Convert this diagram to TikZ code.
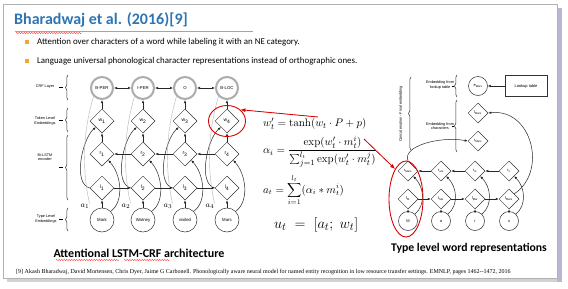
\documentclass[tikz,border=0pt]{standalone}
\usepackage[no-math]{fontspec}
\setmainfont{Carlito}
\newfontfamily\figfont{Liberation Sans}
\newfontfamily\reffont{Liberation Serif}
\usetikzlibrary{arrows.meta,shapes.geometric,decorations.pathreplacing,decorations.pathmorphing}
\definecolor{titleblue}{HTML}{2E75B6}
\definecolor{bulletorange}{HTML}{F0A830}
\begin{document}
\begin{tikzpicture}[x=1pt,y=-1pt,
  arr/.style={-{Latex[length=3pt,width=2.4pt]},line width=0.5pt,draw=black!85},
  dbl/.style={{Latex[length=3pt,width=2.4pt]}-{Latex[length=3pt,width=2.4pt]},line width=0.5pt,draw=black!85},
  redarr/.style={-{Latex[length=5pt,width=4pt]},line width=0.8pt,draw=red!85!black,fill=red!85!black},
  crfnode/.style={circle,draw=gray!65,line width=2pt,minimum size=22pt,inner sep=0pt,font=\figfont\fontsize{4.3}{5}\selectfont},
  wordnode/.style={circle,draw=black!80,line width=0.5pt,minimum size=24pt,inner sep=0pt,font=\figfont\fontsize{4.3}{5}\selectfont},
  dia/.style={diamond,draw=black!80,line width=0.5pt,minimum width=24pt,minimum height=24pt,aspect=1,inner sep=0pt,font=\figfont\fontsize{5}{6}\selectfont},
  sdia/.style={diamond,draw=black!80,line width=0.5pt,minimum width=20pt,minimum height=20pt,aspect=1,inner sep=0pt,font=\figfont\fontsize{4}{5}\selectfont},
  scirc/.style={circle,draw=black!80,line width=0.5pt,minimum size=19pt,inner sep=0pt,font=\figfont\fontsize{4}{5}\selectfont},
  lbl/.style={align=center,font=\figfont\fontsize{3.8}{4.4}\selectfont},
  brc/.style={decorate,decoration={brace,amplitude=2.5pt},line width=0.5pt,draw=black!80},
  gline/.style={draw=gray!55,line width=0.45pt},
  redell/.style={ellipse,draw=red!85!black,line width=0.9pt,inner sep=0pt},
  squig/.style={draw=red!80,line width=0.4pt,decorate,decoration={snake,amplitude=0.6pt,segment length=2.5pt}}
]
\useasboundingbox (0,0) rectangle (568,289);
% slide frame with shadow
\fill[gray!35] (7,8) rectangle (562,282);
\fill[blue!25!gray!45] (557,8) rectangle (562,282);
\fill[white] (3,4) rectangle (557,278);
\draw[gray!60,line width=0.5pt] (3,4) rectangle (557,278);

% title
\node[anchor=west,inner sep=0pt,font=\bfseries\fontsize{16}{18}\selectfont,text=titleblue] (title) at (14,20) {Bharadwaj et al. (2016)[9]};
\draw[titleblue!60,line width=0.6pt] (15,31.5) -- (253,31.5);
\draw[squig] (16,33) -- (82,33);

% bullets
\fill[bulletorange] (25,40) rectangle (29,44);
\fill[bulletorange] (25,59) rectangle (29,63);
\node[anchor=west,inner sep=0pt,font=\fontsize{8.9}{10}\selectfont] (b1) at (37,42) {Attention over characters of a word while labeling it with an NE category.};
\node[anchor=west,inner sep=0pt,font=\fontsize{8.9}{10}\selectfont] (b2) at (37,61) {Language universal phonological character representations instead of orthographic ones.};

% ---------- left diagram ----------
\foreach \i/\x/\tag/\word in {1/102/B-PER/Mark,2/143/I-PER/Watney,3/185/O/visited,4/227/B-LOC/Mars}{
  \node[crfnode] (c\i) at (\x,88) {\tag};
  \node[dia] (w\i) at (\x,121) {w\textsubscript{\i}};
  \node[dia] (r\i) at (\x,154) {r\textsubscript{\i}};
  \node[dia] (l\i) at (\x,188) {l\textsubscript{\i}};
  \node[wordnode] (m\i) at (\x,220) {\word};
  \node[inner sep=0pt,font=\fontsize{8}{9}\selectfont] (a\i) at (\x-17,206) {$a_{\i}$};
  \draw[arr] (m\i) -- (l\i);
  \draw[arr] (r\i) -- (w\i);
  \draw[arr] (w\i) -- (c\i);
  \draw[arr] (l\i.west) .. controls +(-17,-4) and +(-14,12) .. (w\i.south west);
  \draw[arr] (m\i.north east) .. controls +(14,-10) and +(13,14) .. (r\i.south east);
  \draw[gline] (a\i.north east) .. controls +(-9,-40) and +(-9,30) .. (c\i.south west);
}
\foreach \i/\j in {1/2,2/3,3/4}{
  \draw[dbl] (c\i) -- (c\j);
  \draw[arr] (l\i) -- (l\j);
  \draw[arr] (r\j) -- (r\i);
}
% left labels and braces
\node[lbl] (t1) at (45,87) {CRF Layer};
\node[lbl] (t2) at (45,121) {Token Level\\Embeddings};
\node[lbl] (t3) at (45,157) {Bi-LSTM\\encoder};
\node[lbl] (t4) at (46,219) {Type Level\\Embeddings};
\draw[brc] (68,100) -- (68,75);
\draw[brc] (68,132) -- (68,108);
\draw[brc] (68,200) -- (68,135);
\draw[brc] (68,231) -- (68,208);
\foreach \y in {87.5,120,167.5,219.5}{ \draw[line width=0.4pt] (59,\y) -- (63,\y); }

\node[redell,minimum width=37pt,minimum height=31pt] (e1) at (227,121) {};

% formulas
\node[anchor=west,inner sep=0pt,font=\fontsize{11}{13}\selectfont] (f1) at (263,124) {$w'_t = \tanh(w_t\cdot P + p)$};
\node[anchor=west,inner sep=0pt,font=\fontsize{11}{13}\selectfont] (f2) at (263,152) {$\alpha_i = \displaystyle\frac{\exp(w'_t\cdot m^i_t)}{\sum_{j=1}^{l_t}\exp(w'_t\cdot m^j_t)}$};
\node[anchor=west,inner sep=0pt,font=\fontsize{10.5}{12}\selectfont] (f3) at (263,190) {$a_t = \displaystyle\sum_{i=1}^{l_t}(\alpha_i * m^i_t)$};
\node[anchor=west,inner sep=0pt,font=\fontsize{15}{17}\selectfont] (f4) at (274,225) {$u_t\;=\;[a_t;\;w_t]$};

\coordinate (ra1) at (318,117);
\coordinate (ra2) at (364,139);
\draw[redarr] (ra1) -- (e1.north east);

% ---------- right diagram ----------
\node[scirc] (emars) at (478,86) {e\textsubscript{Mars}};
\node[draw=black!80,line width=0.5pt,minimum width=42pt,minimum height=21pt,inner sep=0pt,font=\figfont\fontsize{4}{5}\selectfont] (lookup) at (526,86) {Lookup table};
\draw[arr] (lookup) -- (emars);
\node[sdia] (lmars) at (478,113) {l\textsubscript{Mars}};
\node[sdia] (rmars) at (478,141) {r\textsubscript{Mars}};

\foreach \i/\x/\rl/\ll/\ch in {1/408/Mars/M/M,2/441/ars/Ma/a,3/475/rs/Mar/r,4/509/s/Mars/s}{
  \node[sdia] (rr\i) at (\x,171) {r\textsubscript{\rl}};
  \node[sdia] (rl\i) at (\x,199) {l\textsubscript{\ll}};
  \node[scirc] (rc\i) at (\x,221) {\ch};
  \draw[arr] (rc\i) -- (rl\i);
  \draw[arr] (rc\i.north east) .. controls +(11,-9) and +(11,11) .. (rr\i.south east);
}
\foreach \i/\j in {1/2,2/3,3/4}{
  \draw[arr] (rl\i) -- (rl\j);
  \draw[arr] (rr\j) -- (rr\i);
}
\draw[arr] (rl4.north east) .. controls (548,172) and (532,108) .. (lmars.east);
\draw[arr] (rr1.north) .. controls (402,146) and (440,136) .. (rmars.west);

\node[lbl] (t5) at (440,85) {Embedding from\\lookup table};
\node[lbl] (t6) at (440,126) {Embedding from\\characters};
\node[lbl,rotate=90] (t7) at (401,114) {Concatenation - Final embedding};
\draw[brc] (457,97) -- (457,75);
\draw[brc] (457,152) -- (457,100);
\draw[brc] (411,150) -- (411,77);
\draw[line width=0.4pt] (452,86) -- (454,86);
\draw[line width=0.4pt] (452,126) -- (454,126);

\node[redell,minimum width=34pt,minimum height=76pt] (e2) at (406,199) {};
\draw[redarr] (ra2) -- (e2.110);

% captions
\node[inner sep=0pt,font=\bfseries\fontsize{12}{14}\selectfont] (cap1) at (139,253) {Attentional LSTM-CRF architecture};
\node[inner sep=0pt,font=\bfseries\fontsize{11.7}{14}\selectfont] (cap2) at (469,248) {Type level word representations};
\draw[squig] (56,260) -- (119,260);
\draw[squig] (124,260) -- (170,260);

% reference
\node[anchor=west,inner sep=0pt,font=\reffont\fontsize{6}{7}\selectfont] (ref) at (16,272) {[9] Akash Bharadwaj, David Mortensen, Chris Dyer, Jaime G Carbonell. Phonologically aware neural model for named entity recognition in low resource transfer settings. EMNLP, pages 1462--1472, 2016};
\end{tikzpicture}
\end{document}
